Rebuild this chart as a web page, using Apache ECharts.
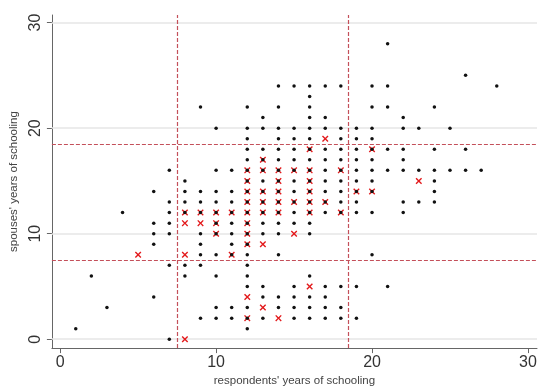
<!DOCTYPE html>
<html>
<head>
<meta charset="utf-8">
<script src="https://cdn.jsdelivr.net/npm/echarts@6/dist/echarts.min.js"></script>
<style>
html,body{margin:0;padding:0;background:#fff;}
#c{width:550px;height:392px;}
</style>
</head>
<body>
<div id="c"></div>
<script>
// spouses' years of schooling (rows) and the respondents' years with a black dot / red cross on each row
const rowY = [28,25,24,23,22,21,20,19,18,17,16,15,14,13,12,11,10,9,8,7,6,5,4,3,2,1,0];
const blackXs = [
  [21],
  [26],
  [14,15,16,17,18,20,21,28],
  [16],
  [9,12,14,16,20,21,24],
  [13,16,17,22],
  [10,12,13,14,15,16,17,18,19,20,22,23,25],
  [12,14,15,16,18,19,20],
  [12,13,14,15,16,17,18,19,20,21,22,24,26],
  [12,13,14,15,16,17,18,19,20,22],
  [7,10,11,12,13,14,15,16,17,18,19,20,21,22,23,24,25,26,27],
  [8,12,13,14,15,16,17,18,19,20,24],
  [6,8,9,10,11,12,13,14,15,16,17,18,19,20,24],
  [7,8,9,10,11,12,13,14,15,16,17,18,19,22,23,24],
  [4,7,8,9,10,11,12,13,14,15,16,17,18,19,20,22],
  [6,7,10,11,12,13,14,15,16],
  [6,7,9,10,11,12,13,14,16],
  [6,9,11,12],
  [9,10,11,12,14,20],
  [7,8,9,12],
  [2,8,10,12,16],
  [12,13,15,17,18,19,21],
  [6,13,14,15,16,17],
  [3,10,11,12,14,15,16,17,18],
  [9,10,11,12,13,15,16,17,18,19],
  [1,12],
  [7]
];
const redXs = [
  [],[],[],[],[],[],[],
  [17],
  [16,20],
  [13],
  [12,13,14,15,16,18],
  [12,14,16,23],
  [12,13,14,16,19,20],
  [12,13,14,15,16,17],
  [8,9,10,11,12,13,14,16,18],
  [8,9,10,12],
  [10,12,15],
  [12,13],
  [5,8,11],
  [],[],
  [16],
  [12],
  [13],
  [12,14],
  [],
  [8]
];
const tickValues = [0,10,20,30];
const cutoffs = [7.5,18.5];
const xName = "respondents' years of schooling";
const yName = "spouses' years of schooling";

const blackData = [], redData = [];
rowY.forEach((y,i)=>{
  blackXs[i].forEach(x=>blackData.push([x,y]));
  redXs[i].forEach(x=>redData.push([x,y]));
});

const crossPath = 'path://M0,1.5 L1.5,0 L5,3.5 L8.5,0 L10,1.5 L6.5,5 L10,8.5 L8.5,10 L5,6.5 L1.5,10 L0,8.5 L3.5,5 Z';
const font = 'Liberation Sans, Arial, sans-serif';

const chart = echarts.init(document.getElementById('c'), null, {renderer:'canvas'});
chart.setOption({
  animation:false,
  backgroundColor:'#fff',
  grid:{left:44,right:13,top:15,bottom:39,containLabel:false},
  xAxis:{
    type:'value', min:-0.53, max:30.58,
    name:xName, nameLocation:'middle', nameGap:22,
    nameTextStyle:{fontFamily:font,fontSize:11.5,color:'#444'},
    axisLine:{show:true,onZero:false,lineStyle:{color:'#666',width:1}},
    axisTick:{show:true,length:5,customValues:tickValues,lineStyle:{color:'#666'}},
    axisLabel:{customValues:tickValues,fontFamily:font,fontSize:16,color:'#333',margin:6},
    splitLine:{show:false}
  },
  yAxis:{
    type:'value', min:-0.84, max:30.72,
    name:yName, nameLocation:'middle', nameGap:24, nameRotate:90,
    nameTextStyle:{fontFamily:font,fontSize:11.5,color:'#444'},
    axisLine:{show:true,onZero:false,lineStyle:{color:'#666',width:1}},
    axisTick:{show:true,length:5,customValues:tickValues,lineStyle:{color:'#666'}},
    axisLabel:{customValues:tickValues,rotate:90,fontFamily:font,fontSize:16,color:'#333',margin:8},
    splitLine:{show:false}
  },
  series:[
    {
      type:'scatter', data:[], z:1, silent:true,
      markLine:{
        silent:true, symbol:'none', label:{show:false}, z:1,
        lineStyle:{color:'#e6e6e6',width:1.5,type:'solid'},
        data: tickValues.map(v=>({yAxis:v}))
      }
    },
    {
      type:'scatter', data:redData, z:3, symbol:crossPath, symbolSize:6.5,
      itemStyle:{color:'#e31a1c',opacity:1},
      markLine:{
        silent:true, symbol:'none', label:{show:false}, z:2,
        lineStyle:{color:'#c4505a',width:1.2,type:[4,2]},
        data: cutoffs.map(v=>({xAxis:v})).concat(cutoffs.map(v=>({yAxis:v})))
      }
    },
    {
      type:'scatter', data:blackData, z:4, symbol:'circle', symbolSize:3.5,
      itemStyle:{color:'#111',opacity:1}
    }
  ]
});
</script>
</body>
</html>
